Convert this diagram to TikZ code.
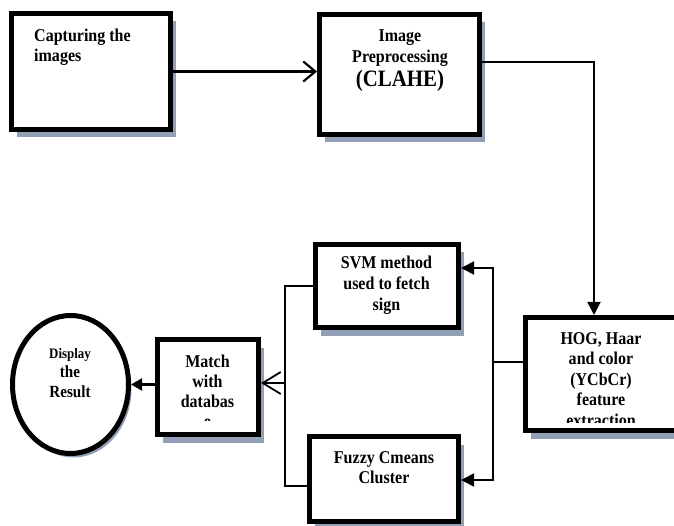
\documentclass[tikz,border=0pt]{standalone}
\usepackage{fontspec}
\setmainfont{Liberation Serif}[FakeStretch=0.89]
\usetikzlibrary{arrows.meta,shadows,shapes.geometric}
\definecolor{shade}{RGB}{146,160,183}
\tikzset{
  box/.style={draw, line width=5pt, fill=white, rectangle, inner sep=0pt,
    drop shadow={shadow xshift=5pt, shadow yshift=-8pt, fill=shade, opacity=1}},
  oval/.style={draw, line width=5pt, fill=white, ellipse, inner sep=0pt,
    drop shadow={shadow xshift=3pt, shadow yshift=-4pt, fill=shade, opacity=1}},
  txt/.style={inner sep=0pt, font=\bfseries\fontsize{18}{20.5}\selectfont, align=center},
  thickconn/.style={line width=2.2pt},
  midconn/.style={line width=1.8pt},
  thinconn/.style={line width=1.2pt},
  openhead/.style={-{Straight Barb[length=12pt,width=20pt]}},
  openhead2/.style={-{Straight Barb[length=18pt,width=22pt]}},
  fillhead/.style={-{Triangle[length=13pt,width=13pt]}},
  fillhead2/.style={-{Triangle[length=11pt,width=12pt]}},
}
\begin{document}
\begin{tikzpicture}[x=1pt,y=-1pt]
\clip (0,0) rectangle (674,526);
\fill[white] (0,0) rectangle (674,526);

% boxes
\node[box, minimum width=159pt, minimum height=116pt] (cap) at (91,71.5) {};
\node[box, minimum width=160pt, minimum height=120pt] (pre) at (399.5,74.5) {};
\node[box, minimum width=152pt, minimum height=113pt] (hog) at (601.5,374) {};
\node[box, minimum width=143pt, minimum height=83pt] (svm) at (387,286) {};
\node[box, minimum width=149pt, minimum height=85pt] (fcm) at (384,479) {};
\node[box, minimum width=101pt, minimum height=95pt] (mat) at (208,387) {};
\node[oval, minimum width=116pt, minimum height=138pt] (disp) at (70.5,384.5) {};

% texts (base anchor = baseline of the last line)
\node[txt, anchor=base west, align=left] (tcap) at (34,62) {Capturing the\\images};
\node[txt, anchor=base, font=\bfseries\fontsize{18}{21.5}\selectfont] (tpre) at (400,87)
  {Image\\Preprocessing\\[2.5pt]{\fontsize{23.5}{23.5}\selectfont (CLAHE)}};
\begin{scope}
  \clip (520,320) rectangle (674,422);
  \node[txt, anchor=base] (thog) at (601,426)
    {HOG, Haar\\and color\\(YCbCr)\\feature\\extraction};
\end{scope}
\node[txt, anchor=base] (tsvm) at (386.5,310) {SVM method\\used to fetch\\sign};
\node[txt, anchor=base, font=\bfseries\fontsize{18}{20}\selectfont] (tfcm) at (384,483) {Fuzzy Cmeans\\Cluster};
\begin{scope}
  \clip (160,340) rectangle (258,420.5);
  \node[txt, anchor=base, font=\bfseries\fontsize{18}{20}\selectfont] (tmat) at (207.5,427) {Match\\with\\databas\\e};
\end{scope}
\node[txt, anchor=base, font=\bfseries\fontsize{17}{20}\selectfont] (tdisp) at (70,397)
  {{\fontsize{14.5}{14.5}\selectfont Display}\\[-1pt]the\\Result};

% connectors
\draw[thickconn, openhead] (cap.east) -- (pre.west |- cap.east);
\draw[midconn, fillhead] ([yshift=12.5pt]pre.east) -| ([xshift=-7.5pt]hog.north);
\coordinate (split) at (493,362);
\coordinate (col) at (285,383);
\draw[midconn] ([yshift=12pt]hog.west) -- (split);
\draw[midconn, fillhead] (split) |- ([yshift=18pt]svm.east);
\draw[midconn, fillhead] (split) |- ([yshift=-1pt]fcm.east);
\draw[thinconn] (svm.west) -| (col) |- ([yshift=-7pt]fcm.west);
\draw[midconn, openhead2] (col) -- (mat.east |- col);
\draw[thickconn, fillhead2] (disp.east -| mat.west) -- (disp.east);
\end{tikzpicture}
\end{document}
